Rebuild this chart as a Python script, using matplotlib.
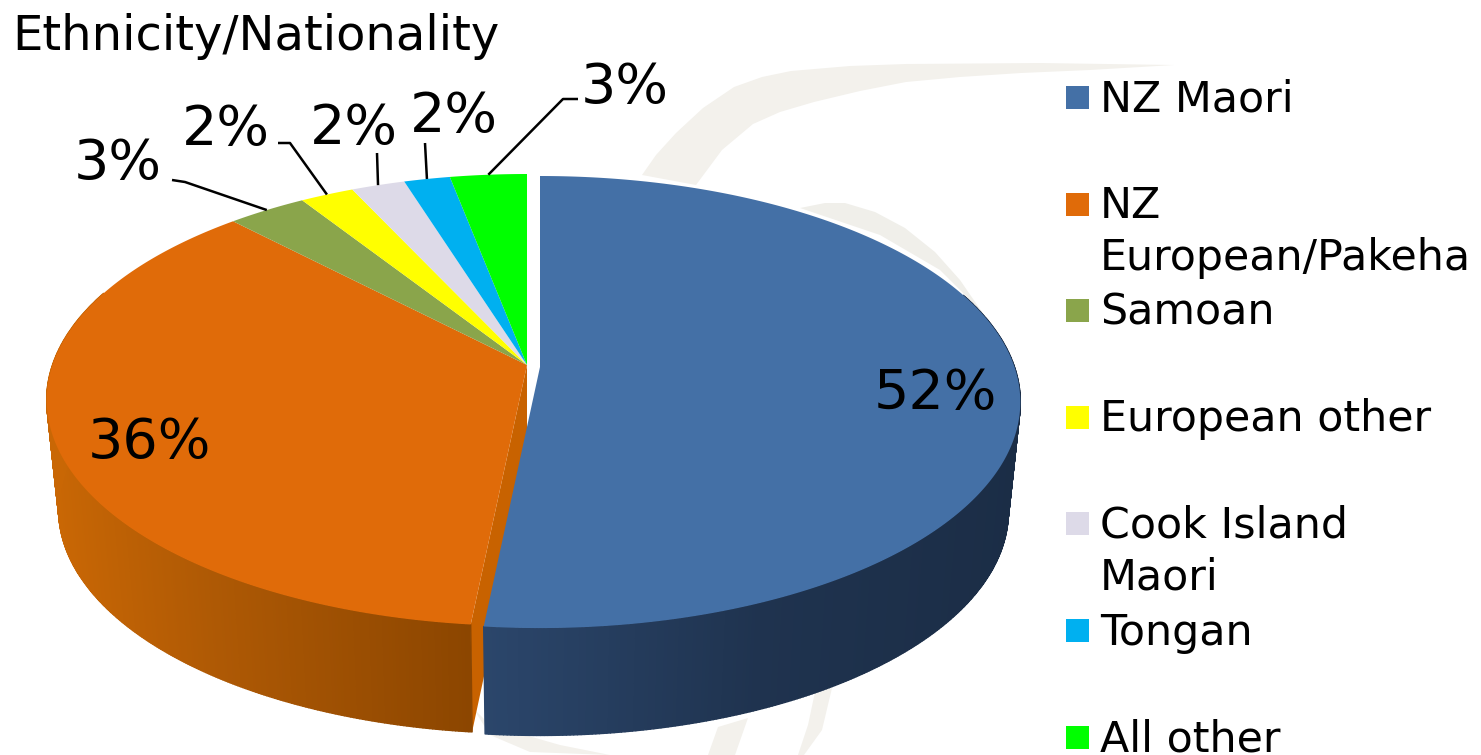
#!/usr/bin/env python3

import numpy as np
import matplotlib
matplotlib.use('Agg')
import matplotlib.pyplot as plt
from matplotlib.collections import PolyCollection
from matplotlib.patches import Rectangle

# data
categories = ['NZ Maori', 'NZ\nEuropean/Pakeha', 'Samoan', 'European other',
              'Cook Island\nMaori', 'Tongan', 'All other']
values = [51.6, 36.3, 3.1, 2.1, 2.1, 1.8, 3.0]
pct_labels = ['52%', '36%', '3%', '2%', '2%', '2%', '3%']
colors = ['#4470a6', '#e06b09', '#8aa54b', '#ffff00', '#dddae8', '#00b0f0', '#00ff00']

W, H = 1481, 755
CX, CY = 527, 365    # apex of the pie, in pixels
R, S, K = 474.5, 220.6, 0.155    # projective circle
DEPTH = 110
SHIFT = {0: (13, 2)}    # exploded slice

fig = plt.figure(figsize=(W / 100, H / 100), dpi=100)
ax = fig.add_axes([0, 0, 1, 1])
ax.set_xlim(0, W)
ax.set_ylim(H, 0)
ax.axis('off')


def rim(theta, dx=0, dy=0, bottom=False):
    """Screen position of the pie rim, theta clockwise from 12 o'clock"""
    w = 1 + K * np.cos(theta)
    x = R * np.sin(theta) / w
    y = -S * np.cos(theta) / w
    if bottom:
        return CX + dx + 0.975 * x, CY + dy + DEPTH + 0.99 * y
    return CX + dx + x, CY + dy + y


def swoosh(points, color='#f3f1ec'):
    px, py = zip(*points)
    ax.fill(px, py, color=color, lw=0, zorder=0)


# faint watermark behind the pie
swoosh([(642, 175), (656, 155), (676, 133), (703, 108), (734, 87), (762, 77), (791, 71), (850, 66),
        (906, 64), (1040, 63), (1174, 65), (1090, 70), (1021, 73), (960, 77), (906, 82), (860, 91),
        (814, 102), (780, 112), (753, 124), (722, 150), (696, 185)])
swoosh([(800, 208), (825, 203), (845, 203), (875, 212), (905, 228), (935, 252), (960, 280), (982, 312),
        (940, 270), (880, 235)], '#f0efea')
swoosh([(473, 708), (490, 735), (530, 752), (610, 755), (560, 745), (490, 725)])
swoosh([(718, 727), (748, 718), (735, 755), (708, 755)])
swoosh([(815, 692), (832, 688), (822, 730), (804, 755), (798, 755), (808, 725)])

edges = 2 * np.pi * np.cumsum([0] + values) / sum(values)

# wall of the orange slice, then the radial face it shows next to the blue one
# only the front part of each rim is seen, the back stays behind the top face
wall_stops = {0: ([483, 760, 1022], ['#2b466b', '#1f334f', '#1b2d46']),
              1: ([50, 200, 467], ['#c96705', '#b05a05', '#8c4600'])}
wall_range = {0: (np.radians(70), edges[1]), 1: (edges[1], np.radians(290))}
for i in [1, 0]:
    dx, dy = SHIFT.get(i, (0, 0))
    th = np.linspace(wall_range[i][0], wall_range[i][1], 300)
    xt, yt = rim(th, dx, dy)
    xb, yb = rim(th, dx, dy, bottom=True)
    quads = [[(xt[j], yt[j]), (xt[j + 1], yt[j + 1]), (xb[j + 1], yb[j + 1]), (xb[j], yb[j])]
             for j in range(len(th) - 1)]
    xs, cs = wall_stops[i]
    rgb = np.array([matplotlib.colors.to_rgb(c) for c in cs])
    mid = (xt[:-1] + xt[1:]) / 2
    face = np.column_stack([np.interp(mid, xs, rgb[:, n]) for n in range(3)])
    ax.add_collection(PolyCollection(quads, facecolors=face, edgecolors=face, linewidths=1.0, zorder=2))
    if i == 1:
        xe, ye = rim(edges[1])
        xf, yf = rim(edges[1], bottom=True)
        ax.fill([CX, xe, xf, CX], [CY, ye, yf, CY + DEPTH], color='#c86200', lw=0, zorder=1.5)

# top faces
for i in [1, 2, 3, 4, 5, 6, 0]:
    dx, dy = SHIFT.get(i, (0, 0))
    th = np.linspace(edges[i], edges[i + 1], 300)
    xt, yt = rim(th, dx, dy)
    ax.fill(np.r_[CX + dx, xt], np.r_[CY + dy, yt], color=colors[i], lw=0, zorder=3)

# leader lines: elbow points of the outside labels
elbows = {2: [(172, 180), (185, 182)], 3: [(278, 143), (290, 143)], 4: [(377, 153)],
          5: [(425, 143)], 6: [(578, 99), (563, 99)]}
for i, pts in elbows.items():
    xr, yr = rim((edges[i] + edges[i + 1]) / 2)
    px = [p[0] for p in pts] + [xr]
    py = [p[1] for p in pts] + [yr]
    ax.plot(px, py, color='black', lw=1.8, zorder=4, solid_capstyle='butt')

# percent labels
label_pos = [(935, 394), (149, 443), (118, 164), (226, 130), (354, 129), (454, 117), (625, 88)]
for txt, (x, y) in zip(pct_labels, label_pos):
    ax.text(x, y, txt, fontsize=40, ha='center', va='center', color='black', zorder=5)

ax.text(12, 50, 'Ethnicity/Nationality', fontsize=34.6, ha='left', va='baseline', color='black')

# legend, one row per category
for i, name in enumerate(categories):
    yc = 97.5 + i * 106.6
    ax.add_patch(Rectangle((1066, yc - 11.5), 23, 23, fc=colors[i], ec='none', zorder=3))
    for n, line in enumerate(name.split('\n')):
        ax.text(1100, yc + 14 + n * 52, line, fontsize=30.8, ha='left', va='baseline',
                color='black', zorder=5)

fig.savefig('out.png', dpi=100)
